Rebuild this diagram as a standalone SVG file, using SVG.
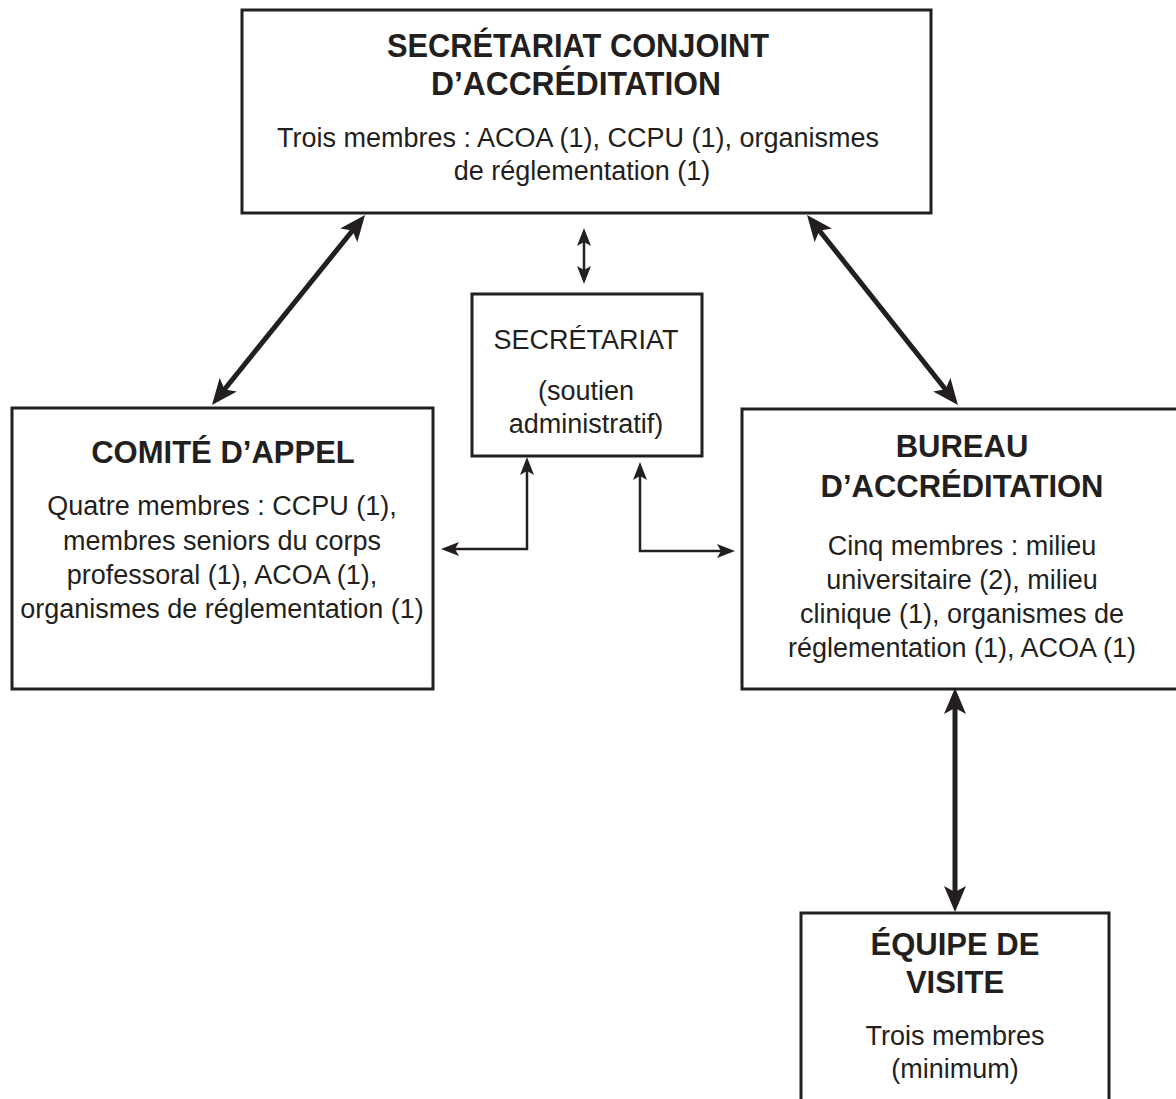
<svg xmlns="http://www.w3.org/2000/svg" width="1176" height="1099" viewBox="0 0 1176 1099">
  <defs>
    <style>
      .box { fill: #ffffff; stroke: #231f20; stroke-width: 3; }
      .t { font-family: "Liberation Sans", Arial, sans-serif; fill: #231f20; text-anchor: middle; }
      .h { font-weight: bold; font-size: 31px; }
      .ht { font-weight: bold; font-size: 34px; }
      .b { font-size: 27px; }
      .thick { fill: none; stroke: #231f20; stroke-width: 5; }
      .thin { fill: none; stroke: #231f20; stroke-width: 2.5; }
    </style>
    <marker id="ahThick" markerUnits="userSpaceOnUse" viewBox="0 -12 27 24" markerWidth="27" markerHeight="24" refX="10" refY="0" orient="auto-start-reverse">
      <path d="M0,-11 L26,0 L0,11 L6,0 Z" fill="#231f20"/>
    </marker>
    <marker id="ahThin" markerUnits="userSpaceOnUse" viewBox="0 -8 19 16" markerWidth="19" markerHeight="16" refX="7" refY="0" orient="auto-start-reverse">
      <path d="M0,-7 L18,0 L0,7 L4,0 Z" fill="#231f20"/>
    </marker>
  </defs>

  <rect width="1176" height="1099" fill="#ffffff"/>

  <g id="connectors">
    <line class="thick" x1="355" y1="227.5" x2="222" y2="392.5" marker-start="url(#ahThick)" marker-end="url(#ahThick)"/>
    <line class="thick" x1="817" y1="227.5" x2="948" y2="392.5" marker-start="url(#ahThick)" marker-end="url(#ahThick)"/>
    <line class="thick" x1="955" y1="704" x2="955" y2="896" marker-start="url(#ahThick)" marker-end="url(#ahThick)"/>
    <line class="thin" x1="584" y1="239" x2="584" y2="273" marker-start="url(#ahThin)" marker-end="url(#ahThin)"/>
    <polyline class="thin" points="527,468 527,549 452,549" marker-start="url(#ahThin)" marker-end="url(#ahThin)"/>
    <polyline class="thin" points="640,473 640,551 724,551" marker-start="url(#ahThin)" marker-end="url(#ahThin)"/>
  </g>

  <g id="secretariat-conjoint">
    <rect class="box" x="242" y="10" width="689" height="203"/>
    <text class="t ht" x="578" y="57" textLength="382" lengthAdjust="spacingAndGlyphs">SECRÉTARIAT CONJOINT</text>
    <text class="t ht" x="576" y="95" textLength="290" lengthAdjust="spacingAndGlyphs">D’ACCRÉDITATION</text>
    <text class="t b" x="578" y="147">Trois membres : ACOA (1), CCPU (1), organismes</text>
    <text class="t b" x="582" y="180">de réglementation (1)</text>
  </g>

  <g id="secretariat">
    <rect class="box" x="472" y="294" width="230" height="162"/>
    <text class="t b" x="586" y="349">SECRÉTARIAT</text>
    <text class="t b" x="586" y="400">(soutien</text>
    <text class="t b" x="586" y="433">administratif)</text>
  </g>

  <g id="comite-appel">
    <rect class="box" x="12" y="408" width="421" height="281"/>
    <text class="t h" x="223" y="463">COMITÉ D’APPEL</text>
    <text class="t b" x="222" y="515">Quatre membres : CCPU (1),</text>
    <text class="t b" x="222" y="550">membres seniors du corps</text>
    <text class="t b" x="222" y="584">professoral (1), ACOA (1),</text>
    <text class="t b" x="222" y="618">organismes de réglementation (1)</text>
  </g>

  <g id="bureau-accreditation">
    <rect class="box" x="742" y="409" width="440" height="280"/>
    <text class="t h" x="962" y="457">BUREAU</text>
    <text class="t h" x="962" y="497">D’ACCRÉDITATION</text>
    <text class="t b" x="962" y="555">Cinq membres : milieu</text>
    <text class="t b" x="962" y="589">universitaire (2), milieu</text>
    <text class="t b" x="962" y="623">clinique (1), organismes de</text>
    <text class="t b" x="962" y="657">réglementation (1), ACOA (1)</text>
  </g>

  <g id="equipe-visite">
    <rect class="box" x="801" y="913" width="308" height="200"/>
    <text class="t h" x="955" y="955">ÉQUIPE DE</text>
    <text class="t h" x="955" y="993">VISITE</text>
    <text class="t b" x="955" y="1045">Trois membres</text>
    <text class="t b" x="955" y="1078">(minimum)</text>
  </g>
</svg>
